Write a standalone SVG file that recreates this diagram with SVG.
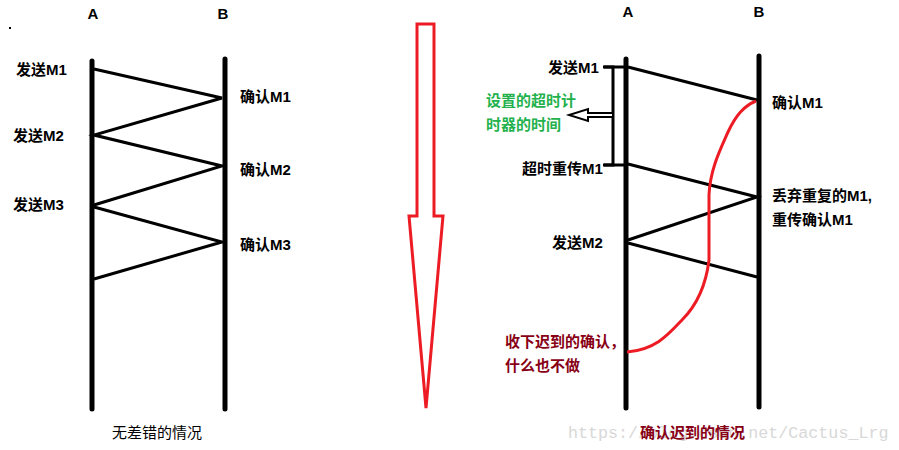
<svg xmlns="http://www.w3.org/2000/svg" width="899" height="450" viewBox="0 0 899 450">
<style>
.t{font-family:"Liberation Sans","Noto Sans CJK SC",sans-serif;font-size:15px;font-weight:bold;fill:#000}
.g{fill:#22b14c}
.r{fill:#880015}
.n{font-weight:normal}
.life{stroke:#000;stroke-width:5;stroke-linecap:round;fill:none}
.msg{stroke:#000;stroke-width:3;fill:none}
.red{stroke:#ed1c24;stroke-width:3;fill:none}
.wm{font-family:"Liberation Mono",monospace;font-size:16.7px;fill:#d8d8d8}
</style>
<rect width="899" height="450" fill="#fff"/>
<rect x="9" y="27" width="2" height="2" fill="#000"/>

<g id="left-A"><line class="life" x1="92" y1="61" x2="92" y2="409"/><text class="t" x="93" y="19" text-anchor="middle">A</text></g>
<g id="left-B"><line class="life" x1="225" y1="59" x2="225" y2="409"/><text class="t" x="223" y="19" text-anchor="middle">B</text></g>

<g id="right-A"><line class="life" x1="626" y1="59" x2="626" y2="408"/><text class="t" x="628" y="17" text-anchor="middle">A</text></g>
<g id="right-B"><line class="life" x1="759" y1="56" x2="759" y2="407"/><text class="t" x="759" y="17" text-anchor="middle">B</text></g>

<g id="connectors">
<polyline class="msg" points="94,69 222,98 94,135 222,166 94,205"/>
<polyline class="msg" points="94,207 222,242 94,279"/>
<line class="msg" x1="628" y1="67" x2="757" y2="100"/>
<polyline class="msg" points="628,164 757,197 628,240"/>
<line class="msg" x1="628" y1="243" x2="757" y2="277"/>
<polyline class="msg" points="603,67 613,67 613,165 603,165" stroke-width="2.5"/>
<line class="msg" x1="604" y1="67" x2="625" y2="67" stroke-width="2.5"/>
<line class="msg" x1="604" y1="165" x2="625" y2="165" stroke-width="2.5"/>
<path d="M612,113 H588 V109 L569,115 L588,121 V117 H612" stroke="#000" stroke-width="2" fill="#fff"/>
<path class="red" d="M756,101 C744,106 736,115 728,132 C720,150 710,170 709,195 L709,260 C706,285 697,305 682,320 C668,335 655,350 627,352"/>
</g>

<g id="left-labels">
<text class="t" x="16" y="75">发送M1</text>
<text class="t" x="13" y="141">发送M2</text>
<text class="t" x="13" y="210">发送M3</text>
<text class="t" x="240" y="102">确认M1</text>
<text class="t" x="240" y="175">确认M2</text>
<text class="t" x="240" y="250">确认M3</text>
<text class="t n" x="112" y="438">无差错的情况</text>
</g>

<g id="arrow">
<path class="red" d="M417,24 H434 V216 H443 L426,408 L409,216 H417 Z"/>
</g>

<g id="right-labels">
<text class="t" x="548" y="73">发送M1</text>
<text class="t g" x="486" y="106">设置的超时计</text>
<text class="t g" x="486" y="130">时器的时间</text>
<text class="t" x="522" y="174">超时重传M1</text>
<text class="t" x="772" y="108">确认M1</text>
<text class="t" x="772" y="201">丢弃重复的M1,</text>
<text class="t" x="772" y="225">重传确认M1</text>
<text class="t" x="552" y="248">发送M2</text>
<text class="t r" x="505" y="347">收下迟到的确认，</text>
<text class="t r" x="505" y="371">什么也不做</text>
<text class="wm" x="568" y="438">https://blog.csdn.net/Cactus_Lrg</text>
<text class="t r" x="640" y="438">确认迟到的情况</text>
</g>
</svg>
